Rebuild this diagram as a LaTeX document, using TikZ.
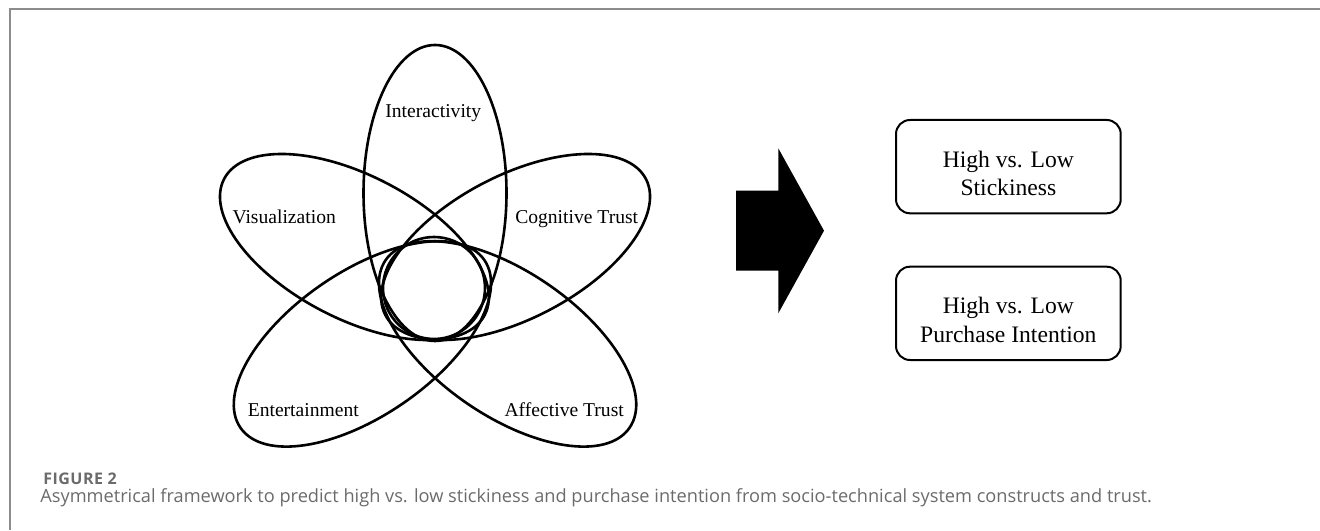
\documentclass[tikz,border=0pt]{standalone}
\usepackage{fontspec}
\setmainfont{Liberation Serif}
\newfontfamily\capfont{Open Sans}
\definecolor{framegray}{HTML}{8C8C8C}
\definecolor{capgray}{HTML}{6B6B6B}
\begin{document}
\begin{tikzpicture}[x=0.5pt,y=0.5pt,
  petal/.style={draw=black, line width=1.3pt},
  lbl/.style={font=\fontsize{9.8pt}{11pt}\selectfont, anchor=base, inner sep=0pt},
  outbox/.style={draw=black, line width=1pt, rounded corners=7pt, minimum width=112.35pt, minimum height=46.65pt, inner sep=0pt},
  outtxt/.style={font=\fontsize{11.8pt}{14.2pt}\selectfont, align=center, inner sep=0pt}
]
\useasboundingbox (0,0) rectangle (1320,530);
\draw[framegray, line width=1pt] (9.5,0) -- (9.5,520.5) -- (1320,520.5);
% petals
\draw[petal] (435,337) ellipse[x radius=71.5, y radius=148];
\draw[petal] (354.4,283) ellipse[x radius=147, y radius=71.5, rotate=-27.6];
\draw[petal] (515.6,283) ellipse[x radius=147, y radius=71.5, rotate=27.6];
\draw[petal] (362.4,186.1) ellipse[x radius=148, y radius=72, rotate=34.5];
\draw[petal] (507.6,186.1) ellipse[x radius=148, y radius=72, rotate=-34.5];
\draw[petal] (434,242) circle[radius=51];
% labels
\node[lbl] (inter) at (433.3,412.7) {Interactivity};
\node[lbl] (visu) at (284.2,306.7) {Visualization};
\node[lbl] (cogn) at (576.7,306.7) {Cognitive Trust};
\node[lbl] (ente) at (303.3,113.3) {Entertainment};
\node[lbl] (affe) at (564.2,113.3) {Affective Trust};
% block arrow
\fill[black] (736,339.3) -- (778.3,339.3) -- (778.3,381.7) -- (824,299.3) -- (778.3,216.7) -- (778.3,259.3) -- (736,259.3) -- cycle;
% outcome boxes
\node[outbox] (box1) at (1008.35,363.35) {};
\node[outbox] (box2) at (1008.35,216.65) {};
\node[outtxt, yshift=-3.3pt] (txt1) at (box1.center) {High vs. Low\\Stickiness};
\node[outtxt, yshift=-3.3pt] (txt2) at (box2.center) {High vs. Low\\Purchase Intention};
% caption
\node[anchor=base west, inner sep=0pt, font=\capfont\bfseries\fontsize{8pt}{9pt}\selectfont\addfontfeatures{LetterSpace=3}, text=capgray] (fig) at (43,46) {FIGURE 2};
\node[anchor=base west, inner sep=0pt, font=\capfont\fontsize{9.1pt}{11pt}\selectfont, text=capgray] (cap) at (40,28) {Asymmetrical framework to predict high vs. low stickiness and purchase intention from socio-technical system constructs and trust.};
\end{tikzpicture}
\end{document}
